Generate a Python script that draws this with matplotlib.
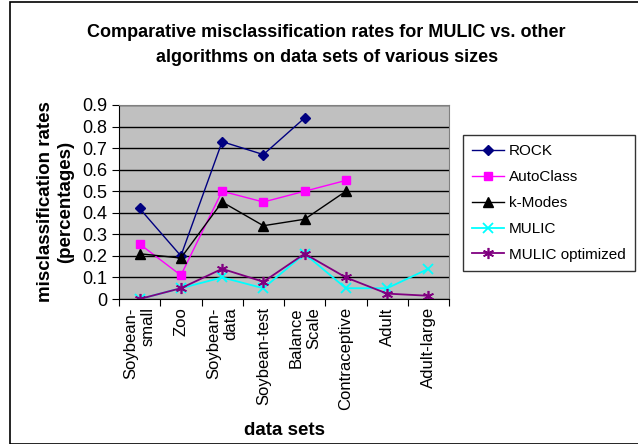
import numpy as np
import matplotlib.pyplot as plt
from matplotlib.patches import Rectangle

plt.rcParams['font.family'] = ['Liberation Sans', 'DejaVu Sans']

datasets = ["Soybean-\nsmall", "Zoo", "Soybean-\ndata", "Soybean-test",
            "Balance\nScale", "Contraceptive", "Adult", "Adult-large"]
nan = np.nan
rock = [0.42, 0.20, 0.73, 0.67, 0.84, nan, nan, nan]
autoclass = [0.255, 0.11, 0.50, 0.45, 0.50, 0.55, nan, nan]
kmodes = [0.21, 0.19, 0.45, 0.34, 0.37, 0.50, nan, nan]
mulic = [0.0, 0.05, 0.10, 0.05, 0.21, 0.05, 0.05, 0.14]
mulic_opt = [0.0, 0.05, 0.14, 0.08, 0.21, 0.10, 0.025, 0.015]

fig = plt.figure(figsize=(6.38, 4.44), dpi=100)
fig.patches.append(Rectangle((10/638, 0), 1, 1 - 2/444, transform=fig.transFigure,
                             fill=False, edgecolor='black', lw=1.2))
ax = fig.add_axes([119/638, 1 - 299/444, 330/638, 194/444])
ax.set_facecolor('#C0C0C0')

x = np.arange(len(datasets))
ax.plot(x, rock, color='#000080', marker='D', ms=5, lw=1, label='ROCK')
ax.plot(x, autoclass, color='#FF00FF', marker='s', ms=6, lw=1, label='AutoClass')
ax.plot(x, kmodes, color='black', marker='^', ms=7, lw=1, label='k-Modes')
ax.plot(x, mulic, color='#00FFFF', marker='x', ms=7, mew=1.3, lw=1.3, label='MULIC')
ax.plot(x, mulic_opt, color='#800080', marker=(6, 2, 0), ms=8, mew=1.2, lw=1.3,
        label='MULIC optimized')

ax.set_xlim(-0.5, len(datasets) - 0.5)
ax.set_ylim(0, 0.9)
ax.set_yticks(np.arange(0, 0.91, 0.1))
ax.set_yticklabels(['0' if v == 0 else f'{v:.1f}' for v in np.arange(0, 0.91, 0.1)],
                   fontsize=13)
ax.yaxis.grid(True, color='black', lw=1)
ax.set_axisbelow(True)

ax.set_xticks(np.arange(-0.5, len(datasets), 1.0))
ax.set_xticklabels([])
ax.set_xticks(x, minor=True)
ax.set_xticklabels(datasets, minor=True, rotation=90, fontsize=12,
                   multialignment='right', va='top', ha='center')
ax.tick_params(axis='x', which='minor', length=0, pad=6)
ax.tick_params(axis='x', which='major', length=5, direction='out')
ax.tick_params(axis='y', length=5, direction='out')
for s in ['top', 'right']:
    ax.spines[s].set_color('#808080')

ax.set_xlabel('data sets', fontsize=13.5, fontweight='bold', labelpad=8)
ax.set_ylabel('misclassification rates\n(percentages)', fontsize=13.5,
              fontweight='bold', labelpad=6)
fig.text(0.512, 1 - 45/444, 'Comparative misclassification rates for MULIC vs. other\n'
         'algorithms on data sets of various sizes', ha='center', va='center',
         fontsize=13, fontweight='bold', linespacing=1.55)

leg = ax.legend(loc='upper left', bbox_to_anchor=((463 - 119)/330, 1 - (135 - 105)/194),
                fontsize=11, frameon=True, fancybox=False, edgecolor='black',
                handlelength=2.1, borderpad=0.6, labelspacing=0.78, handletextpad=0.3,
                borderaxespad=0)
leg.get_frame().set_linewidth(1)

fig.savefig('out.png', dpi=100)
